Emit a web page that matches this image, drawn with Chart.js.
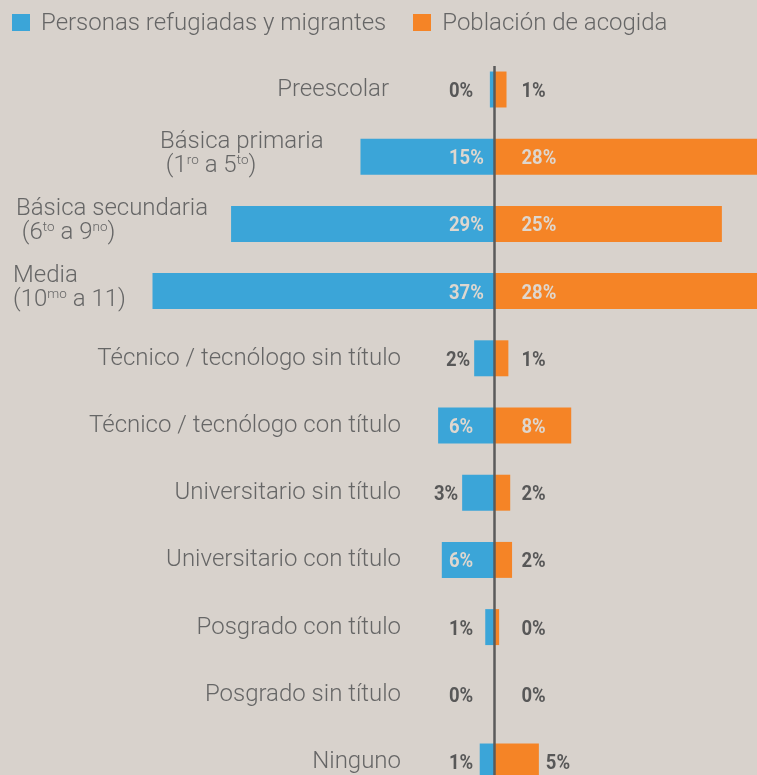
<!DOCTYPE html>
<html lang="es">
<head>
<meta charset="utf-8">
<title>Nivel educativo</title>
<script src="https://cdn.jsdelivr.net/npm/chart.js@4.4.1/dist/chart.umd.min.js"></script>
<style>
    html, body { margin: 0; padding: 0; background: #d8d2cc; overflow: hidden; }
    #wrap { position: relative; width: 757px; height: 775px; overflow: hidden; }
    #legend {
        position: absolute; top: 9px; left: 12px; display: flex; align-items: center;
        font-family: Roboto, sans-serif; font-weight: 300; font-size: 24px; line-height: 27px; color: #666;
    }
    .item { display: flex; align-items: center; margin-right: 27px; }
    .swatch { width: 18px; height: 17px; margin-right: 11px; }
    canvas { position: absolute; top: 0; left: 0; }
</style>
</head>
<body>
<div id="wrap">
    <canvas id="chart" width="757" height="800"></canvas>
    <div id="legend"></div>
</div>
<script>
// categories, {..} marks a superscript
const categories = [
    ['Preescolar'],
    ['Básica primaria', ' (1{ro} a 5{to})'],
    ['Básica secundaria', ' (6{to} a 9{no})'],
    ['Media', '(10{mo} a 11)'],
    ['Técnico / tecnólogo sin título'],
    ['Técnico / tecnólogo con título'],
    ['Universitario sin título'],
    ['Universitario con título'],
    ['Posgrado con título'],
    ['Posgrado sin título'],
    ['Ninguno']
];

const seriesNames = ['Personas refugiadas y migrantes', 'Población de acogida'];

// bar lengths (unrounded) and the printed percentages
const refugeeValues = [0.5, 14.5, 28.5, 37.0, 2.2, 6.1, 3.5, 5.7, 1.0, 0, 1.6];
const hostValues    = [1.3, 28.4, 24.6, 28.4, 1.5, 8.3, 1.7, 1.9, 0.5, 0, 4.8];
const refugeeLabels = [0, 15, 29, 37, 2, 6, 3, 6, 1, 0, 1];
const hostLabels    = [1, 28, 25, 28, 1, 8, 2, 2, 0, 0, 5];

const BLUE = '#3ba5d8';
const ORANGE = '#f58426';
const TEXT = '#666666';
const DARK = '#585858';
const LIGHT = '#ded7cf';
const SQUEEZE = 0.88;

// legend
document.getElementById('legend').innerHTML = seriesNames.map((name, i) => `
    <div class="item"><span class="swatch" style="background:${i ? ORANGE : BLUE}"></span>${name}</div>
`).join('');

const mainFont = '300 24px Roboto';
const supFont = '300 13.5px Roboto';

const parseRich = line => line.split(/(\{[^}]*\})/).filter(s => s).map(s =>
    s[0] === '{' ? { text: s.slice(1, -1), sup: true } : { text: s, sup: false });

const richWidth = (ctx, parts) => parts.reduce((w, p) => {
    ctx.font = p.sup ? supFont : mainFont;
    return w + ctx.measureText(p.text).width;
}, 0);

const drawRich = (ctx, line, x, y) => {
    let cx = x;
    parseRich(line).forEach(p => {
        ctx.font = p.sup ? supFont : mainFont;
        ctx.fillText(p.text, cx, p.sup ? y - 8 : y);
        cx += ctx.measureText(p.text).width;
    });
};

const condensedText = (ctx, text, x, y) => {
    ctx.save();
    ctx.translate(x, y);
    ctx.scale(SQUEEZE, 1);
    ctx.textAlign = 'left';
    ctx.fillText(text, 0, 0);
    ctx.restore();
};

// where the multi-line labels sit, and right edges of the plain ones
const multiLeft = { 1: 160, 2: 16, 3: 13 };
const plainRight = { 0: 389 };

const butterflyLabels = {
    id: 'butterflyLabels',
    afterDatasetsDraw(chart) {
        const ctx = chart.ctx;
        const xs = chart.scales.x;
        const ys = chart.scales.y;
        const axisX = xs.getPixelForValue(0);

        ctx.save();
        ctx.strokeStyle = '#5b5b5b';
        ctx.lineWidth = 2.5;
        ctx.beginPath();
        ctx.moveTo(axisX, 66);
        ctx.lineTo(axisX, chart.height);
        ctx.stroke();

        // category labels
        ctx.fillStyle = TEXT;
        ctx.textAlign = 'left';
        ctx.textBaseline = 'alphabetic';
        categories.forEach((lines, i) => {
            const cy = ys.getPixelForValue(i);
            if (lines.length > 1) {
                drawRich(ctx, lines[0], multiLeft[i], cy - 9);
                drawRich(ctx, lines[1], multiLeft[i], cy + 15);
            } else {
                const right = plainRight[i] ?? 401;
                const w = richWidth(ctx, parseRich(lines[0]));
                drawRich(ctx, lines[0], right - w, cy + 6.5);
            }
        });

        // value labels
        ctx.font = 'bold 21px Roboto';
        const blueMeta = chart.getDatasetMeta(0);
        const orangeMeta = chart.getDatasetMeta(1);
        refugeeLabels.forEach((v, i) => {
            const bar = blueMeta.data[i];
            const txt = v + '%';
            const w = ctx.measureText(txt).width * SQUEEZE;
            let left = axisX - 45.5;
            if (left + w > bar.x - 4 && bar.x > left) left = bar.x - 4 - w;
            ctx.fillStyle = bar.x <= left ? LIGHT : DARK;
            condensedText(ctx, txt, left, bar.y + 7.5);
        });
        hostLabels.forEach((v, i) => {
            const bar = orangeMeta.data[i];
            const txt = v + '%';
            const w = ctx.measureText(txt).width * SQUEEZE;
            let left = axisX + 27;
            const inside = bar.x >= left + w + 4;
            if (!inside) left = Math.max(left, bar.x + 7);
            ctx.fillStyle = inside ? LIGHT : DARK;
            condensedText(ctx, txt, left, bar.y + 7.5);
        });
        ctx.restore();
    }
};

new Chart(document.getElementById('chart'), {
    type: 'bar',
    data: {
        labels: categories,
        datasets: [
            { label: seriesNames[0], data: refugeeValues.map(v => -v), backgroundColor: BLUE },
            { label: seriesNames[1], data: hostValues, backgroundColor: ORANGE }
        ]
    },
    options: {
        indexAxis: 'y',
        responsive: false,
        animation: false,
        layout: { padding: { top: 55.9, bottom: 4.9, left: 0, right: 0 } },
        datasets: { bar: { categoryPercentage: 1, barPercentage: 0.535, borderWidth: 0 } },
        plugins: { legend: { display: false }, tooltip: { enabled: false } },
        scales: {
            x: { type: 'linear', min: -53.5, max: 28.4, stacked: true, display: false },
            y: { type: 'category', stacked: true, display: false }
        }
    },
    plugins: [butterflyLabels]
});
</script>
</body>
</html>
